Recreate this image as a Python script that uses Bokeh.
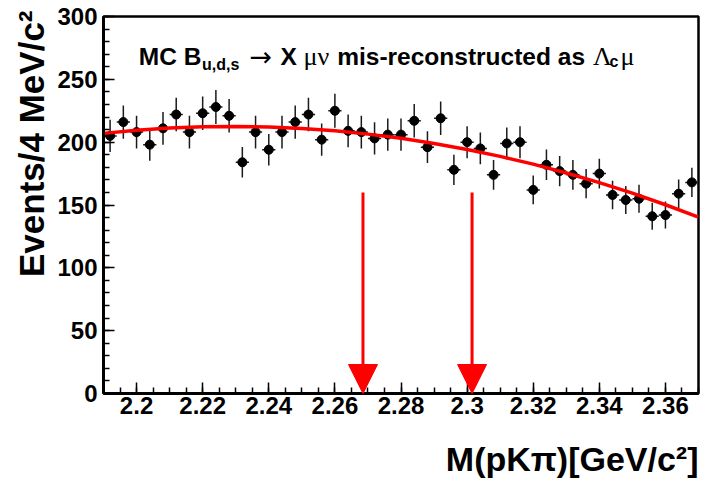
from bokeh.plotting import figure
from bokeh.models import Label, Arrow, NormalHead, FixedTicker, Range1d, ColumnDataSource, Title
from bokeh.embed import file_html
from bokeh.resources import INLINE

# ---------------- data ----------------
bin_centers = [2.192, 2.196, 2.200, 2.204, 2.208, 2.212, 2.216, 2.220, 2.224, 2.228,
               2.232, 2.236, 2.240, 2.244, 2.248, 2.252, 2.256, 2.260, 2.264, 2.268,
               2.272, 2.276, 2.280, 2.284, 2.288, 2.292, 2.296, 2.300, 2.304, 2.308,
               2.312, 2.316, 2.320, 2.324, 2.328, 2.332, 2.336, 2.340, 2.344, 2.348,
               2.352, 2.356, 2.360, 2.364, 2.368]
counts = [205, 216, 208, 198, 211, 222, 208, 223, 228, 221,
          184, 208, 194, 208, 216, 222, 202, 225, 209, 208,
          203, 206, 206, 217, 196, 219, 178, 200, 195, 174,
          199, 200, 162, 182, 177, 174, 167, 175, 158, 154,
          155, 141, 142, 159, 168]
count_errors = [12.9, 13.2, 13.0, 12.7, 13.1, 13.4, 13.0, 13.4, 13.6, 13.4,
                12.2, 13.0, 12.5, 13.0, 13.2, 13.4, 12.8, 13.5, 13.0, 13.0,
                12.8, 12.9, 12.9, 13.3, 12.6, 13.3, 12.0, 12.7, 12.6, 11.9,
                12.7, 12.7, 11.5, 12.1, 12.0, 11.9, 11.6, 11.9, 11.3, 11.2,
                11.2, 10.7, 10.7, 11.3, 11.7]
bin_half_width = 0.002

fit_x = [2.19, 2.20, 2.21, 2.22, 2.23, 2.24, 2.25, 2.26, 2.27, 2.28,
         2.29, 2.30, 2.31, 2.32, 2.33, 2.34, 2.35, 2.36, 2.37]
fit_y = [207.0, 209.4, 211.2, 212.2, 212.5, 212.1, 210.9, 209.0, 206.4, 203.1,
         199.0, 194.2, 188.7, 182.5, 175.5, 167.8, 159.4, 150.2, 140.4]

arrow_x = [2.2685, 2.3015]
arrow_top = [160, 160]
arrow_tip = [0, 0]

x_ticks = [2.20, 2.22, 2.24, 2.26, 2.28, 2.30, 2.32, 2.34, 2.36]
x_tick_labels = ["2.2", "2.22", "2.24", "2.26", "2.28", "2.3", "2.32", "2.34", "2.36"]
y_ticks = [0, 50, 100, 150, 200, 250, 300]
y_tick_labels = ["0", "50", "100", "150", "200", "250", "300"]

x_title = "M(pK\u03c0)[GeV/c\u00b2]"
y_title = "Events/4 MeV/c\u00b2"

X0, X1 = 2.19, 2.37
Y0, Y1 = 0, 300

# ---------------- layout ----------------
FRAME_W, FRAME_H = 595, 377
BL, BR, BT, BB = 103, 6, 16, 100


def gx(px):
    return X0 + (px - BL) / FRAME_W * (X1 - X0)


def gy(py):
    return Y0 + (BT + FRAME_H - py) / FRAME_H * (Y1 - Y0)


p = figure(frame_width=FRAME_W, frame_height=FRAME_H,
           min_border_left=BL, min_border_right=BR, min_border_top=BT, min_border_bottom=BB,
           x_range=Range1d(X0, X1), y_range=Range1d(Y0, Y1),
           output_backend="svg", toolbar_location=None)
p.background_fill_color = "white"
p.border_fill_color = "white"
p.outline_line_color = "black"
p.outline_line_width = 2.5
p.xgrid.visible = False
p.ygrid.visible = False

x_minor = [round(X0 + 0.005 * i, 3) for i in range(37)]
y_minor = list(range(0, 301, 10))
p.xaxis.ticker = FixedTicker(ticks=x_ticks, minor_ticks=x_minor)
p.yaxis.ticker = FixedTicker(ticks=y_ticks, minor_ticks=y_minor)
p.xaxis.major_label_overrides = dict(zip(x_ticks, x_tick_labels))
p.yaxis.major_label_overrides = dict(zip(y_ticks, y_tick_labels))

for ax in (p.xaxis[0], p.yaxis[0]):
    ax.axis_line_width = 3
    ax.axis_line_color = "black"
    ax.major_tick_in = 11
    ax.major_tick_out = 0
    ax.minor_tick_in = 6
    ax.minor_tick_out = 0
    ax.major_tick_line_width = 1.5
    ax.minor_tick_line_width = 1.5
    ax.major_tick_line_color = "black"
    ax.minor_tick_line_color = "black"
    ax.major_label_text_font = "Liberation Sans"
    ax.major_label_text_font_style = "bold"
    ax.major_label_text_font_size = "24px"
    ax.major_label_text_color = "black"
p.xaxis[0].major_label_standoff = 3
p.yaxis[0].major_label_standoff = 6

# axis titles as side-panel titles (right / top aligned like the reference)
p.add_layout(Title(text=x_title, align="right", text_font="Liberation Sans",
                   text_font_style="bold", text_font_size="34px", text_color="black",
                   standoff=42), "below")
p.add_layout(Title(text=y_title, align="right", text_font="Liberation Sans",
                   text_font_style="bold", text_font_size="35px", text_color="black",
                   standoff=8, offset=-6), "left")

# ---------------- data glyphs ----------------
src = ColumnDataSource(dict(
    x=bin_centers,
    y=counts,
    ylo=[c - e for c, e in zip(counts, count_errors)],
    yhi=[c + e for c, e in zip(counts, count_errors)],
    xlo=[b - bin_half_width for b in bin_centers],
    xhi=[b + bin_half_width for b in bin_centers],
))
p.segment(x0="x", y0="ylo", x1="x", y1="yhi", source=src, line_color="#1a1a1a", line_width=1.5)
p.segment(x0="xlo", y0="y", x1="xhi", y1="y", source=src, line_color="#1a1a1a", line_width=1.5)
p.scatter(x="x", y="y", source=src, marker="circle", size=9, fill_color="black", line_color="black")

p.line(fit_x, fit_y, line_color="#ff0000", line_width=3.5)

for ax_, at_, tip_ in zip(arrow_x, arrow_top, arrow_tip):
    p.add_layout(Arrow(x_start=ax_, y_start=at_, x_end=ax_, y_end=tip_,
                       line_color="#ff0000", line_width=3,
                       end=NormalHead(size=29, fill_color="#ff0000", line_color="#ff0000", line_width=1)))

# ---------------- title inside the frame ----------------
SANS = "Liberation Sans"
SERIF = "Liberation Serif"


def lab(text, px, py, font=SANS, style="bold", size="24px", align="left"):
    p.add_layout(Label(x=gx(px), y=gy(py), text=text, text_font=font, text_font_style=style,
                       text_font_size=size, text_color="black", text_align=align,
                       text_baseline="alphabetic"))


lab("MC B", 138.3, 55.7, size="24.5px")
lab("u,d,s", 201.5, 64.0, size="16px")
lab("\u2192", 249, 55.7, font="DejaVu Sans", style="normal", size="27px")
lab("X", 280, 55.7, size="24.5px")
lab("\u03bc\u03bd", 303, 55.7, font=SERIF, style="normal", size="26px")
lab("mis-reconstructed as", 336.7, 55.7, size="24.5px")
lab("\u039b", 592.5, 55.7, font=SERIF, style="normal", size="26px")
lab("c", 609, 60.5, size="16px")
lab("\u03bc", 620, 55.7, font=SERIF, style="normal", size="26px")

open("out.html", "w").write(file_html(p, INLINE))
